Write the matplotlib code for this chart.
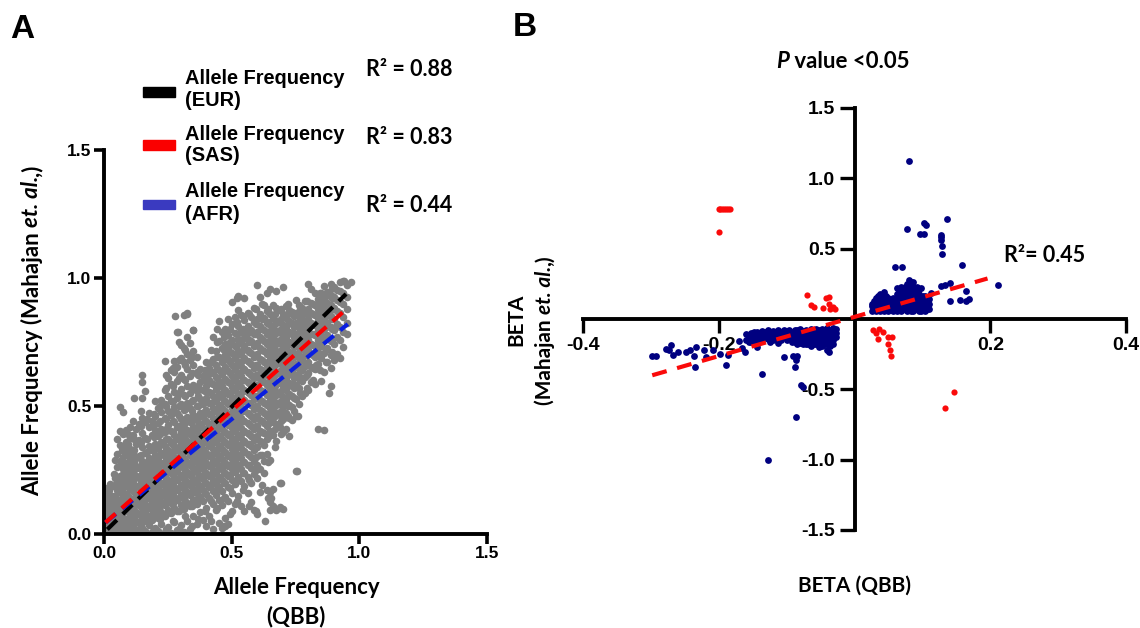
import numpy as np
import matplotlib
matplotlib.use('Agg')
import matplotlib.pyplot as plt

plt.rcParams['font.family'] = ['Liberation Sans', 'DejaVu Sans']

W, H = 1140, 628

# panel A, grey cloud as columns of y values (x step 0.0125)
col_x = [0.0, 0.0125, 0.025, 0.0375, 0.05, 0.0625, 0.075, 0.0875, 0.1, 0.1125, 0.125, 0.1375, 0.15, 0.1625, 0.175, 0.1875,
         0.2, 0.2125, 0.225, 0.2375, 0.25, 0.2625, 0.275, 0.2875, 0.3, 0.3125, 0.325, 0.3375, 0.35, 0.3625, 0.375, 0.3875,
         0.4, 0.4125, 0.425, 0.4375, 0.45, 0.4625, 0.475, 0.4875, 0.5, 0.5125, 0.525, 0.5375, 0.55, 0.5625, 0.575, 0.5875,
         0.6, 0.6125, 0.625, 0.6375, 0.65, 0.6625, 0.675, 0.6875, 0.7, 0.7125, 0.725, 0.7375, 0.75, 0.7625, 0.775, 0.7875,
         0.8, 0.8125, 0.825, 0.8375, 0.85, 0.8625, 0.875, 0.8875, 0.9, 0.9125, 0.925, 0.9375, 0.95]
col_y = [
    [.012, .037, .068, .094, .128, .161],
    [.005, .029, .056, .083, .117, .142, .178],
    [.018, .044, .071, .103, .131, .154, .196],
    [.008, .033, .061, .09, .122, .149, .187, .233],
    [.021, .052, .079, .112, .138, .171, .205, .262, .311, .372],
    [.004, .039, .066, .098, .127, .164, .193, .228, .285, .346, .402, .497],
    [.015, .047, .085, .109, .146, .181, .216, .254, .301, .338, .392, .478],
    [.027, .058, .091, .124, .158, .199, .241, .276, .323, .361, .408],
    [.009, .041, .074, .106, .137, .175, .208, .247, .289, .331, .374, .419],
    [.031, .063, .095, .133, .168, .203, .236, .271, .312, .386, .443],
    [.014, .052, .087, .121, .152, .189, .227, .263, .298, .352, .409],
    [.006, .044, .078, .113, .146, .183, .219, .258, .304, .367, .428],
    [.024, .061, .102, .139, .172, .211, .249, .287, .338, .396, .452, .532, .592, .621],
    [.011, .049, .083, .118, .157, .194, .232, .271, .316, .374, .436, .558],
    [.035, .069, .108, .143, .182, .221, .259, .297, .345, .418, .471],
    [.007, .055, .092, .129, .166, .204, .243, .283, .328, .387, .443],
    [.022, .074, .115, .151, .189, .228, .268, .309, .352, .405, .461, .518],
    [.013, .062, .101, .138, .176, .214, .252, .291, .336, .384, .433, .492],
    [.041, .087, .126, .163, .201, .239, .277, .318, .361, .412, .477, .523],
    [.009, .072, .112, .149, .188, .226, .264, .303, .345, .398, .452, .508, .561],
    [.028, .094, .135, .174, .212, .251, .289, .327, .372, .426, .482, .541, .608],
    [.005, .081, .121, .161, .199, .237, .276, .314, .356, .404, .463, .521, .587, .642],
    [.047, .103, .144, .183, .223, .262, .301, .342, .388, .437, .496, .553, .631, .677],
    [.016, .089, .131, .171, .209, .248, .288, .328, .371, .419, .473, .532, .598, .654, .791],
    [.034, .112, .153, .193, .232, .273, .312, .354, .398, .448, .507, .566, .622, .688, .737],
    [.008, .098, .141, .182, .221, .258, .297, .338, .381, .429, .486, .543, .604, .671, .726, .856],
    [.052, .122, .164, .204, .243, .283, .323, .364, .407, .456, .512, .577, .643, .702, .768, .862],
    [.021, .108, .152, .192, .231, .271, .309, .349, .392, .438, .491, .552, .618, .681, .745],
    [.071, .134, .176, .216, .256, .296, .336, .377, .419, .465, .523, .582, .662, .716, .796],
    [.038, .117, .161, .201, .242, .281, .321, .361, .403, .447, .501, .559, .631, .692],
    [.086, .146, .188, .228, .268, .307, .347, .388, .429, .473, .529, .594, .643],
    [.053, .129, .173, .213, .253, .293, .333, .373, .414, .457, .508, .561, .618],
    [.031, .101, .157, .198, .238, .278, .318, .358, .399, .441, .484, .531, .578, .622, .672],
    [.072, .141, .184, .225, .265, .304, .344, .384, .425, .467, .512, .556, .601, .649],
    [.018, .118, .169, .211, .251, .291, .331, .371, .411, .452, .494, .538, .584, .631, .683, .771],
    [.092, .153, .197, .238, .278, .318, .358, .398, .438, .479, .521, .567, .612, .662, .715],
    [.043, .131, .182, .224, .264, .304, .344, .384, .424, .464, .505, .548, .594, .641, .692, .752, .832],
    [.025, .114, .168, .211, .252, .292, .332, .372, .412, .452, .493, .535, .579, .624, .673, .726, .789],
    [.061, .146, .198, .239, .279, .319, .359, .399, .439, .479, .519, .561, .605, .651, .698, .743, .802],
    [.038, .127, .183, .226, .266, .306, .346, .386, .426, .466, .507, .548, .592, .637, .684, .732, .778, .841],
    [.091, .162, .212, .253, .293, .333, .373, .413, .453, .493, .533, .574, .617, .662, .708, .756, .822, .905],
    [.118, .196, .241, .281, .321, .361, .401, .441, .481, .521, .561, .602, .644, .689, .736, .784, .848],
    [.147, .224, .268, .308, .348, .388, .428, .468, .508, .548, .588, .628, .671, .716, .762, .811, .874, .928],
    [.109, .206, .253, .295, .335, .375, .415, .455, .495, .535, .575, .616, .658, .703, .749, .797, .856],
    [.088, .188, .238, .282, .323, .363, .403, .443, .483, .523, .563, .603, .645, .689, .734, .781, .835, .923],
    [.162, .223, .271, .313, .353, .393, .433, .473, .513, .553, .593, .633, .675, .719, .763, .811, .863],
    [.124, .201, .257, .301, .342, .382, .422, .462, .502, .542, .582, .622, .664, .708, .752, .798, .847],
    [.095, .236, .286, .329, .369, .409, .449, .489, .529, .569, .609, .649, .691, .735, .781, .829, .883],
    [.079, .218, .271, .338, .381, .421, .461, .501, .541, .581, .621, .661, .703, .747, .791, .839, .971],
    [.163, .254, .307, .362, .404, .444, .484, .524, .564, .604, .644, .684, .726, .769, .812, .861, .924],
    [.239, .285, .346, .393, .433, .473, .513, .553, .593, .633, .673, .713, .755, .797, .843, .893],
    [.172, .312, .372, .421, .462, .502, .542, .582, .622, .662, .702, .742, .783, .826, .872, .941],
    [.093, .124, .163, .291, .401, .449, .491, .531, .571, .611, .651, .691, .732, .773, .816, .861, .958],
    [.108, .176, .387, .436, .478, .519, .559, .599, .639, .679, .719, .759, .799, .842, .893],
    [.092, .364, .428, .472, .513, .553, .593, .633, .673, .713, .753, .793, .833, .881, .951],
    [.106, .201, .418, .464, .507, .548, .588, .628, .668, .708, .748, .788, .828, .874],
    [.096, .397, .451, .496, .537, .578, .618, .658, .698, .738, .778, .818, .859, .963],
    [.412, .473, .518, .561, .601, .641, .681, .721, .761, .801, .842, .891],
    [.381, .452, .503, .548, .591, .631, .671, .711, .751, .791, .832, .874],
    [.445, .498, .541, .586, .626, .666, .706, .746, .786, .826, .868],
    [.462, .247, .526, .581, .623, .663, .703, .743, .783, .823, .864, .913],
    [.508, .571, .617, .657, .697, .737, .777, .817, .857, .896],
    [.538, .598, .641, .681, .721, .761, .801, .841, .882],
    [.552, .613, .658, .701, .742, .782, .822, .863, .912],
    [.561, .627, .672, .718, .758, .798, .838, .879, .975],
    [.595, .651, .702, .743, .783, .823, .863, .904, .956],
    [.586, .644, .693, .736, .776, .816, .856, .896, .941],
    [.411, .663, .712, .757, .797, .837, .877, .918],
    [.596, .688, .733, .778, .818, .858, .898, .943],
    [.407, .631, .708, .756, .801, .841, .881, .921, .967],
    [.672, .728, .778, .823, .863, .903, .947],
    [.648, .701, .753, .808, .851, .893, .934, .978],
    [.681, .742, .796, .838, .881, .926, .966],
    [.703, .768, .821, .871, .913, .952],
    [.689, .756, .809, .862, .906, .948, .984],
    [.732, .791, .846, .898, .943, .988],
    [.781, .824, .878, .927, .971],
]
# second layer of the same cloud, between the columns above
fill_x = [.019, .044, .069, .094, .119, .144, .169, .194, .219, .244, .269, .294, .319, .344, .369, .394, .419, .444, .469,
          .494, .519, .544, .569, .594, .619, .644, .669, .694, .719, .744, .769, .794, .819, .844, .869, .894]
fill_y = [
    [.02, .05, .09, .14, .17],
    [.01, .04, .1, .15, .19, .22, .29],
    [.03, .07, .13, .17, .2, .23, .27, .33],
    [.02, .05, .12, .15, .19, .22, .26, .31, .35, .39],
    [.01, .07, .11, .14, .18, .22, .25, .28, .33, .37],
    [.03, .08, .12, .16, .2, .23, .27, .31, .36, .42, .48],
    [.05, .1, .14, .17, .21, .25, .28, .32, .37, .45],
    [.02, .09, .13, .17, .21, .25, .29, .33, .38, .43, .47],
    [.06, .11, .15, .19, .23, .27, .31, .35, .39, .44, .5],
    [.02, .08, .13, .17, .21, .25, .29, .33, .37, .41, .45, .5, .57, .62],
    [.05, .12, .16, .2, .24, .28, .32, .36, .4, .44, .48, .52, .58, .65],
    [.02, .09, .14, .18, .22, .26, .3, .34, .38, .42, .46, .5, .55, .61, .68, .75],
    [.07, .13, .17, .21, .25, .29, .33, .37, .41, .45, .49, .54, .6, .66, .72],
    [.03, .11, .16, .2, .24, .28, .32, .36, .4, .44, .48, .52, .57, .63, .69],
    [.06, .14, .18, .22, .26, .3, .34, .38, .42, .46, .5, .54, .58, .62],
    [.09, .16, .2, .24, .28, .32, .36, .4, .44, .48, .52, .56, .6, .64],
    [.05, .13, .19, .23, .27, .31, .35, .39, .43, .47, .51, .55, .59, .63, .67, .72],
    [.1, .17, .21, .25, .29, .33, .37, .41, .45, .49, .53, .57, .61, .65, .69, .75, .8],
    [.03, .14, .2, .24, .28, .32, .36, .4, .44, .48, .52, .56, .6, .64, .68, .72, .77],
    [.08, .18, .23, .27, .31, .35, .39, .43, .47, .51, .55, .59, .63, .67, .71, .75, .8],
    [.13, .21, .26, .3, .34, .38, .42, .46, .5, .54, .58, .62, .66, .7, .74, .78, .83, .92],
    [.17, .24, .28, .32, .36, .4, .44, .48, .52, .56, .6, .64, .68, .72, .76, .8, .85],
    [.11, .21, .27, .31, .35, .39, .43, .47, .51, .55, .59, .63, .67, .71, .75, .79, .86],
    [.09, .25, .3, .34, .38, .42, .46, .5, .54, .58, .62, .66, .7, .74, .78, .82, .88],
    [.19, .31, .36, .4, .44, .48, .52, .56, .6, .64, .68, .72, .76, .8, .84, .9],
    [.14, .28, .38, .43, .47, .51, .55, .59, .63, .67, .71, .75, .79, .83, .88],
    [.34, .41, .46, .5, .54, .58, .62, .66, .7, .74, .78, .82, .86],
    [.39, .44, .48, .52, .56, .6, .64, .68, .72, .76, .8, .84, .88],
    [.46, .5, .54, .58, .62, .66, .7, .74, .78, .82, .86, .9],
    [.48, .53, .57, .61, .65, .69, .73, .77, .81, .85],
    [.55, .6, .64, .68, .72, .76, .8, .84, .88],
    [.57, .62, .66, .7, .74, .78, .82, .86, .91],
    [.6, .65, .7, .74, .78, .82, .86, .9],
    [.64, .69, .74, .78, .82, .86, .9, .94],
    [.67, .72, .77, .81, .85, .89, .93],
    [.71, .76, .8, .84, .88, .92, .96],
]
extra_x = [.117, .24, .28, .29, .325, .35, .76, .756, .695, .655, .69, .474, .63, .94, .968, .88, .89, .83]
extra_y = [.53, .677, .85, .79, .86, .795, .46, .245, .2, .14, .1, .03, .05, .99, .985, .55, .58, .66]

# regression lines, panel A
eur_x, eur_y = [0.013, 0.948], [0.018, 0.9375]
sas_x, sas_y = [0.006, 0.935], [0.045, 0.866]
afr_x, afr_y = [0.006, 0.955], [0.045, 0.82]

# panel B
navy_col_x = [-.17, -.16, -.156, -.152, -.148, -.144, -.14, -.136, -.132, -.128, -.124, -.12, -.116, -.112, -.108, -.104, -.1, -.096, -.092,
              -.088, -.084, -.08, -.076, -.072, -.068, -.064, -.06, -.056, -.052, -.048, -.044, -.04, -.036, -.032, -.027]
navy_col_y = [
    [-.155], [-.11, -.15], [-.12, -.16], [-.1, -.13, -.16], [-.09, -.12, -.15], [-.09, -.12, -.17], [-.1, -.14], [-.085, -.11, -.15],
    [-.09, -.13], [-.08, -.11, -.14], [-.09, -.12, -.16], [-.085, -.12, -.15], [-.09, -.13], [-.08, -.11, -.14, -.17], [-.09, -.12, -.15],
    [-.075, -.1, -.13], [-.085, -.12, -.15], [-.08, -.11, -.14], [-.09, -.12, -.16], [-.075, -.1, -.13, -.16], [-.08, -.115, -.145, -.18],
    [-.07, -.1, -.13, -.17], [-.085, -.115, -.15, -.18], [-.075, -.1, -.13, -.16, -.18], [-.085, -.115, -.145, -.175], [-.07, -.1, -.13, -.16, -.19],
    [-.08, -.115, -.145, -.175], [-.07, -.1, -.13, -.16, -.18], [-.08, -.115, -.145, -.175, -.2], [-.07, -.1, -.13, -.16, -.19], [-.08, -.11, -.145, -.175],
    [-.065, -.09, -.12, -.15, -.18, -.22], [-.075, -.105, -.135, -.165, -.195], [-.065, -.09, -.12, -.15, -.18], [-.07, -.1, -.13],
]
navy_left_x = [-.298, -.293, -.277, -.27, -.273, -.268, -.26, -.248, -.243, -.234, -.237, -.235, -.221, -.219, -.209, -.198, -.189, -.187,
               -.166, -.161, -.143, -.136, -.104, -.09, -.084, -.086, -.088, -.079, -.076, -.086, -.128, -.037]
navy_left_y = [-.262, -.26, -.213, -.184, -.22, -.255, -.236, -.232, -.22, -.196, -.26, -.338, -.22, -.267, -.22, -.248, -.326, -.255,
               -.208, -.232, -.2, -.388, -.267, -.262, -.262, -.29, -.338, -.468, -.485, -.7, -1.0, -.232]

navy2_col_x = [.026, .029, .032, .035, .038, .041, .044, .047, .05, .053, .056, .059, .062, .065, .068, .071, .074, .077, .08, .083, .086, .089,
               .092, .095, .098, .101, .104, .107, .11]
navy2_col_y = [
    [.06, .09, .11], [.07, .1, .13], [.06, .09, .12, .15], [.07, .1, .13, .16], [.06, .09, .12, .15, .18], [.07, .1, .13, .16], [.06, .09, .12, .15, .19],
    [.07, .1, .13, .16], [.06, .09, .12, .15], [.07, .1, .13], [.06, .09, .12, .15], [.07, .1, .13], [.06, .09, .12, .15, .18, .22], [.07, .1, .13, .16, .2],
    [.06, .09, .12, .15, .18, .23], [.07, .1, .13, .16, .2, .22], [.07, .1, .13, .16, .2, .23], [.06, .09, .12, .15, .18, .22, .25],
    [.07, .1, .14, .17, .21, .24, .28], [.06, .09, .12, .15, .19, .22, .26], [.06, .09, .13, .17, .2, .23, .26], [.07, .1, .13, .16, .19, .22],
    [.07, .1, .13, .16, .19, .23], [.06, .09, .12, .15, .18, .21], [.06, .09, .12, .15, .22], [.07, .1, .13, .16], [.06, .09, .13, .16], [.07, .1, .13], [.07, .11, .14],
]
navy_right_x = [.08, .103, .105, .137, .077, .096, .103, .127, .127, .128, .129, .129, .06, .07, .159, .212, .133, .14, .165, .155, .165, .168, .141, .113, .128]
navy_right_y = [1.12, .683, .667, .71, .643, .603, .603, .6, .58, .56, .518, .459, .371, .371, .383, .239, .24, .253, .2, .135, .13, .14, .13, .187, .235]

red_x = [-.2, -.198, -.195, -.192, -.189, -.186, -.183, -.2, -.07, -.064, -.059, -.047, -.042, -.038, -.037, -.032, -.029, -.036,
         .027, .031, .036, .042, .034, .05, .055, .05, .053, .054, .133, .147]
red_y = [.78, .78, .78, .78, .78, .78, .78, .615, .168, .1, .088, .076, .147, .158, .11, .087, .07, .07,
         -.08, -.1, -.07, -.09, -.14, -.13, -.13, -.18, -.22, -.26, -.63, -.52]
fit_x, fit_y = [-.298, .196], [-.40, .288]

BOLD = 'Lato'
fig = plt.figure(figsize=(W / 100, H / 100), dpi=100)


def chain(x, y, pieces, rotation=0, size=16):
    # consecutive text pieces, so only et. al. is italic
    r = fig.canvas.get_renderer()
    for s, style in pieces:
        t = fig.text(x / W, 1 - y / H, s, family=BOLD, fontweight='bold', style=style, fontsize=size, rotation=rotation,
                     ha='left', va='center', rotation_mode='anchor')
        e = t.get_window_extent(r)
        if rotation:
            y -= e.height
        else:
            x += e.width


# panel A
ax = fig.add_axes([104 / W, 1 - 534 / H, 383 / W, 384 / H])
gx = np.concatenate([np.full(len(y), x) for x, y in zip(col_x, col_y)]
                    + [np.full(len(y), x) for x, y in zip(fill_x, fill_y)] + [extra_x])
gy = np.concatenate([np.array(y) for y in col_y] + [np.array(y) for y in fill_y] + [extra_y])
ax.scatter(gx, gy, s=30, color='#808080', linewidths=0, zorder=2)
ax.plot(eur_x, eur_y, color='black', lw=3.0, dashes=(3.2, 2.0), zorder=3)
ax.plot(afr_x, afr_y, color='#0a1ee0', lw=3.0, dashes=(3.2, 2.0), zorder=3)
ax.plot(sas_x, sas_y, color='#fa0000', lw=3.0, dashes=(3.2, 2.0), zorder=4)
ax.set_xlim(0, 1.5)
ax.set_ylim(0, 1.5)
ax.set_xticks([0, 0.5, 1.0, 1.5])
ax.set_yticks([0, 0.5, 1.0, 1.5])
ax.set_xticklabels(['0.0', '0.5', '1.0', '1.5'], fontweight='bold', fontsize=12.5)
ax.set_yticklabels(['0.0', '0.5', '1.0', '1.5'], fontweight='bold', fontsize=12.5)
ax.tick_params(width=2.6, length=7, pad=2)
for s in ['top', 'right']:
    ax.spines[s].set_visible(False)
for s in ['left', 'bottom']:
    ax.spines[s].set_linewidth(2.8)
fig.text(296 / W, 1 - 587 / H, 'Allele Frequency', family=BOLD, fontweight='bold', fontsize=16, ha='center', va='center')
fig.text(296 / W, 1 - 617 / H, '(QBB)', family=BOLD, fontweight='bold', fontsize=16, ha='center', va='center')
chain(32, 496, [('Allele Frequency (Mahajan ', 'normal'), ('et. al.', 'italic'), (',)', 'normal')], rotation=90)

# legend, drawn as in the figure
legend_rows = [('black', '(EUR)', 92, 78, 100, 'R² = 0.88', 69),
               ('#fa0000', '(SAS)', 145, 134, 156, 'R² = 0.83', 137),
               ('#3a3ac0', '(AFR)', 204, 192, 214, 'R² = 0.44', 205)]
for color, name, ly, t1, t2, rtext, ry in legend_rows:
    fig.add_artist(plt.Rectangle((143 / W, 1 - (ly + 4.5) / H), 32 / W, 9 / H, color=color, transform=fig.transFigure))
    fig.text(185 / W, 1 - t1 / H, 'Allele Frequency', fontweight='bold', fontsize=14.4, va='center')
    fig.text(185 / W, 1 - t2 / H, name, fontweight='bold', fontsize=14.4, va='center')
    fig.text(366 / W, 1 - ry / H, rtext, family=BOLD, fontweight='bold', fontsize=15.5, va='center')

# panel B
bx = fig.add_axes([583 / W, 1 - 530 / H, 543 / W, 422 / H])
nx = np.concatenate([np.full(len(y), x) for x, y in zip(navy_col_x, navy_col_y)] + [navy_left_x]
                    + [np.full(len(y), x) for x, y in zip(navy2_col_x, navy2_col_y)] + [navy_right_x])
ny = np.concatenate([np.array(y) for y in navy_col_y] + [navy_left_y] + [np.array(y) for y in navy2_col_y] + [navy_right_y])
bx.scatter(nx, ny, s=24, color='#000080', linewidths=0, zorder=3)
bx.scatter(red_x, red_y, s=20, color='#fa0a0a', linewidths=0, zorder=3)
bx.plot(fit_x, fit_y, color='#fa0a0a', lw=3, dashes=(3.6, 2.6), zorder=4)
bx.spines['left'].set_position(('data', 0))
bx.spines['bottom'].set_position(('data', 0))
bx.set_xlim(-0.4, 0.4)
bx.set_ylim(-1.5, 1.5)
bx.set_xticks([-0.4, -0.2, 0.2, 0.4])
bx.set_yticks([-1.5, -1.0, -0.5, 0.5, 1.0, 1.5])
bx.set_xticklabels(['-0.4', '-0.2', '0.2', '0.4'], fontweight='bold', fontsize=14)
bx.set_yticklabels(['-1.5', '-1.0', '-0.5', '0.5', '1.0', '1.5'], fontweight='bold', fontsize=14)
bx.tick_params(width=2.4, length=10, pad=3)
bx.tick_params(axis='y', length=11)
for s in ['top', 'right']:
    bx.spines[s].set_visible(False)
for s in ['left', 'bottom']:
    bx.spines[s].set_linewidth(2.8)
bx.patch.set_alpha(0)

chain(776, 62, [('P', 'italic'), (' value <0.05', 'normal')])
fig.text(1004 / W, 1 - 255 / H, 'R²= 0.45', family=BOLD, fontweight='bold', fontsize=15.5, va='center')
fig.text(855 / W, 1 - 586 / H, 'BETA (QBB)', family=BOLD, fontweight='bold', fontsize=15, ha='center', va='center')
fig.text(516 / W, 1 - 320 / H, 'BETA', family=BOLD, fontweight='bold', fontsize=15, rotation=90, ha='center', va='center')
chain(545, 405, [('(Mahajan ', 'normal'), ('et. al.', 'italic'), (',)', 'normal')], rotation=90, size=15)

fig.text(10 / W, 1 - 29 / H, 'A', fontweight='bold', fontsize=24, va='center')
fig.text(513 / W, 1 - 28 / H, 'B', fontweight='bold', fontsize=24, va='center')

fig.savefig('out.png', dpi=100)
